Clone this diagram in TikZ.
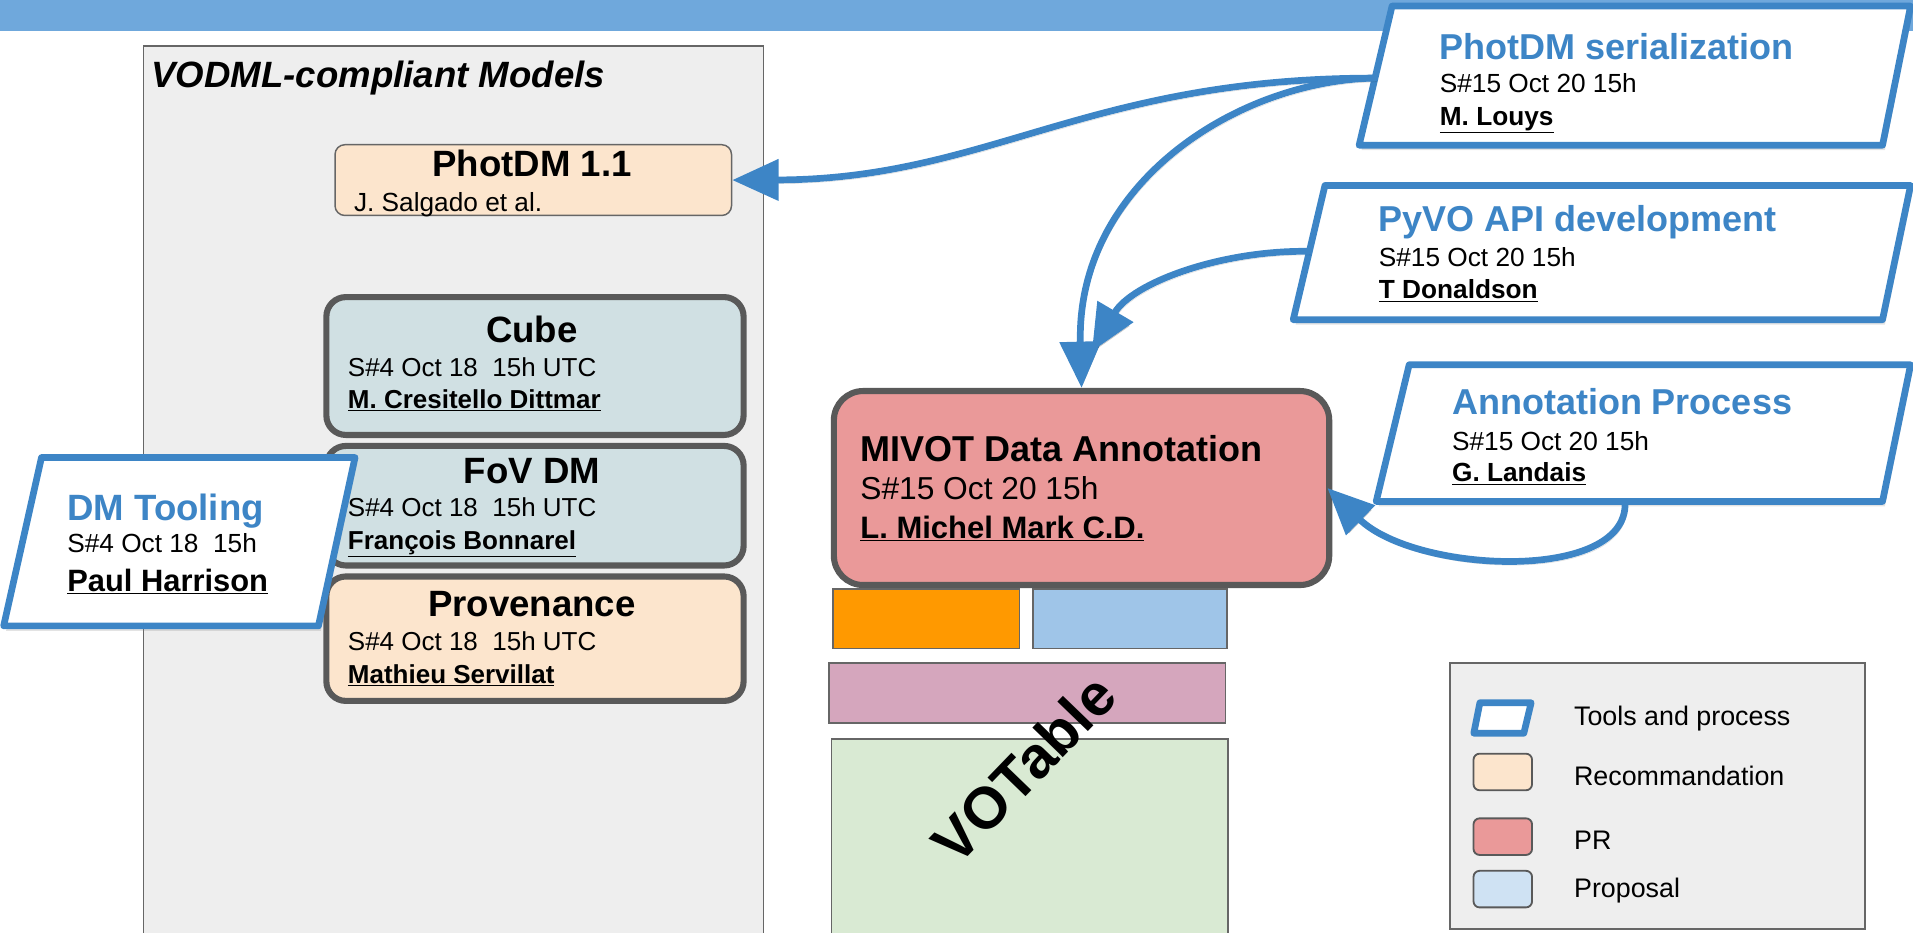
\documentclass[tikz,border=0pt]{standalone}
\usepackage{fontspec}
\setmainfont{Liberation Sans}
\usetikzlibrary{arrows.meta,shadows}
\definecolor{bannerblue}{HTML}{6FA8DC}
\definecolor{toolblue}{HTML}{3D85C6}
\definecolor{panelgray}{HTML}{EEEEEE}
\definecolor{edgegray}{HTML}{666666}
\definecolor{darkedge}{HTML}{595959}
\definecolor{recfill}{HTML}{FCE5CD}
\definecolor{modfill}{HTML}{D0E0E3}
\definecolor{propfill}{HTML}{CFE2F3}
\definecolor{prfill}{HTML}{EA9999}
\definecolor{orangefill}{HTML}{FF9900}
\definecolor{lbluefill}{HTML}{9FC5E8}
\definecolor{pinkfill}{HTML}{D5A6BD}
\definecolor{greenfill}{HTML}{D9EAD3}
\newcommand{\fsz}[1]{\fontsize{#1}{#1}\selectfont}
\newcommand{\ul}[1]{\underline{#1}}
\begin{document}
\begin{tikzpicture}[x=1pt,y=-1pt,
  panel/.style={draw=edgegray, fill=panelgray, line width=1.2pt, anchor=north west, inner sep=0pt},
  modbox/.style={draw=darkedge, line width=5pt, rounded corners=16pt, anchor=north west, inner sep=0pt},
  thinbox/.style={draw=edgegray, line width=1.2pt, rounded corners=8pt, anchor=north west, inner sep=0pt},
  slab/.style={draw=edgegray, line width=1.2pt, anchor=north west, inner sep=0pt},
  toolbox/.style={draw=toolblue, fill=white, line width=5.5pt, line join=round,
     drop shadow={opacity=0.22, shadow xshift=2pt, shadow yshift=-4pt}},
  ttitle/.style={anchor=base west, inner sep=0pt, font=\fsz{29.5}\bfseries, text=toolblue},
  mtitle/.style={anchor=base, inner sep=0pt, font=\fsz{30}\bfseries},
  info/.style={anchor=base west, inner sep=0pt, font=\fsz{#1}},
  who/.style={anchor=base west, inner sep=0pt, font=\fsz{#1}\bfseries},
  conn/.style={draw=toolblue, line width=5.5pt, -{Triangle[length=38pt,width=33pt]},
     preaction={draw=black, opacity=0.15, transform canvas={xshift=1.5pt, yshift=-3pt}}},
  swatch/.style={draw=darkedge, line width=1.5pt, rounded corners=5pt, anchor=north west, inner sep=0pt, minimum width=48pt, minimum height=30pt},
  legtext/.style={anchor=base west, inner sep=0pt, font=\fsz{22}}
]
\useasboundingbox (0,0) rectangle (1568,764);
\fill[bannerblue] (0,0) rectangle (1568,25);

% VODML panel
\node[panel, minimum width=508pt, minimum height=760pt] (vodml) at (117,37) {};
\node[anchor=base west, inner sep=0pt, font=\fsz{30}\bfseries\itshape] (vodmlt) at (124,72) {VODML-compliant Models};

% PhotDM 1.1
\node[thinbox, fill=recfill, minimum width=325pt, minimum height=58pt] (photdm) at (274,118) {};
\node[mtitle] (photdmt) at (436,145) {PhotDM 1.1};
\node[info=21.5] (photdmi) at (290,173) {J. Salgado et al.};

% Cube
\node[modbox, fill=modfill, minimum width=342pt, minimum height=113pt] (cube) at (265,241) {};
\node[mtitle] (cubet) at (436,281) {Cube};
\node[info=21.3] (cubei) at (285,309) {S\#4 Oct 18\ \ 15h UTC};
\node[who=21.3] (cubew) at (285,335) {\ul{M. Cresitello Dittmar}};

% FoV DM
\node[modbox, fill=modfill, minimum width=342pt, minimum height=98pt] (fov) at (265,363) {};
\node[mtitle] (fovt) at (436,396) {FoV DM};
\node[info=21.3] (fovi) at (285,423) {S\#4 Oct 18\ \ 15h UTC};
\node[who=21.3] (fovw) at (285,450) {\ul{François Bonnarel}};

% Provenance
\node[modbox, fill=recfill, minimum width=342pt, minimum height=102pt] (prov) at (265,470) {};
\node[mtitle] (provt) at (436,505) {Provenance};
\node[info=21.3] (provi) at (285,533) {S\#4 Oct 18\ \ 15h UTC};
\node[who=21.3] (provw) at (285,560) {\ul{Mathieu Servillat}};

% DM Tooling
\draw[toolbox] (34,375) -- (291,375) -- (261,513) -- (3,513) -- cycle;
\node[ttitle, font=\fsz{30}\bfseries] (dmt) at (55,427) {DM Tooling};
\node[info=21.5] (dmi) at (55,453) {S\#4 Oct 18\ \ 15h};
\node[who=25.3] (dmw) at (55,485) {\ul{Paul Harrison}};

% MIVOT
\node[modbox, fill=prfill, rounded corners=24pt, minimum width=406pt, minimum height=159pt] (mivot) at (681,318) {};
\node[anchor=base west, inner sep=0pt, font=\fsz{29.5}\bfseries] (mivott) at (705,378) {MIVOT Data Annotation};
\node[info=26] (mivoti) at (705,409) {S\#15 Oct 20 15h};
\node[who=25.4] (mivotw) at (705,441) {\ul{L. Michel Mark C.D.}};

% VOTable slabs
\node[slab, fill=orangefill, minimum width=153pt, minimum height=49pt] (vo1) at (682,482) {};
\node[slab, fill=lbluefill, minimum width=159pt, minimum height=49pt] (vo2) at (846,482) {};
\node[slab, fill=pinkfill, minimum width=325pt, minimum height=49pt] (vo3) at (679,543) {};
\node[slab, fill=greenfill, minimum width=325pt, minimum height=180pt] (vo4) at (681,605) {};
\node[rotate=46, inner sep=0pt, font=\fsz{48}\bfseries] (votable) at (839,630) {VOTable};

% Tool boxes on the right
\draw[toolbox] (1141,5) -- (1566,5) -- (1543,119) -- (1114,119) -- cycle;
\node[ttitle] (sert) at (1180,48.5) {PhotDM serialization};
\node[info=21.5] (seri) at (1180,76) {S\#15 Oct 20 15h};
\node[who=21.5] (serw) at (1180,102.5) {\ul{M. Louys}};
\coordinate (serL) at (1127,64);

\draw[toolbox] (1086,152) -- (1566,152) -- (1543,262) -- (1060,262) -- cycle;
\node[ttitle] (pyt) at (1130,190) {PyVO API development};
\node[info=21.5] (pyi) at (1130,218.5) {S\#15 Oct 20 15h};
\node[who=21.5] (pyw) at (1130,245) {\ul{T Donaldson}};
\coordinate (pyL) at (1073,206);
\coordinate (pyend) at (895,288);

\draw[toolbox] (1155,299) -- (1566,299) -- (1543,411) -- (1128,411) -- cycle;
\node[ttitle] (annt) at (1190,340) {Annotation Process};
\node[info=21.5] (anni) at (1190,369) {S\#15 Oct 20 15h};
\node[who=21.5] (annw) at (1190,395) {\ul{G. Landais}};
\coordinate (annB) at (1332,412);
\coordinate (mivotR) at (1088,400);

% connectors
\draw[conn] (serL) .. controls (890,64) and (810,147) .. (photdm.east);
\draw[conn] (serL) .. controls (1015,66) and (882,150) .. (mivot.north);
\draw[conn] (pyL) .. controls (1000,205) and (928,232) .. (pyend);
\draw[conn] (annB) .. controls (1334,478) and (1160,470) .. (mivotR);

% Legend
\node[panel, minimum width=340pt, minimum height=218pt] (legend) at (1188,543) {};
\draw[draw=toolblue, fill=white, line width=5.5pt, line join=round] (1213,576) -- (1255,576) -- (1249,601) -- (1208,601) -- cycle;
\node[legtext] (l1) at (1290,595) {Tools and process};
\node[swatch, fill=recfill] (s2) at (1207,617) {};
\node[legtext] (l2) at (1290,644) {Recommandation};
\node[swatch, fill=prfill] (s3) at (1207,670) {};
\node[legtext] (l3) at (1290,696) {PR};
\node[swatch, fill=propfill] (s4) at (1207,713) {};
\node[legtext] (l4) at (1290,736) {Proposal};
\end{tikzpicture}
\end{document}
